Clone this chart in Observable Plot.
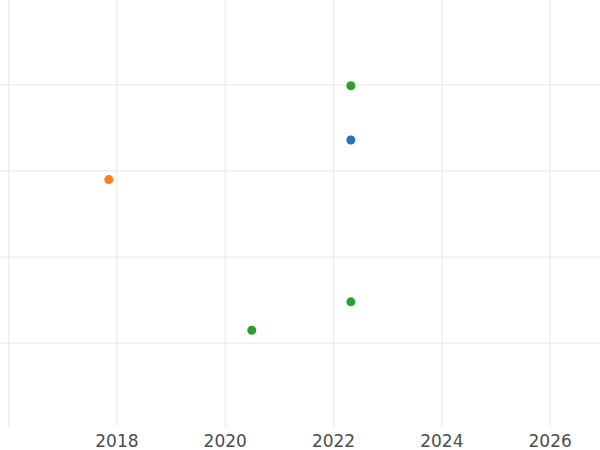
<!DOCTYPE html>
<html>
<head>
<meta charset="utf-8">
<script src="https://cdn.jsdelivr.net/npm/d3@7"></script>
<script src="https://cdn.jsdelivr.net/npm/@observablehq/plot@0.6"></script>
<style>
  html, body { margin: 0; padding: 0; background: #fff; }
  #chart svg { display: block; }
</style>
</head>
<body>
<div id="chart"></div>
<script>
// Data
const years  = [2022.32, 2022.32, 2017.85, 2022.32, 2020.49];
const values = [3.99, 3.36, 2.90, 1.48, 1.15];
const series = ["C", "A", "B", "C", "C"];

const seriesNames = ["A", "B", "C"];
const gridYears = [2016, 2018, 2020, 2022, 2024, 2026];
const tickYears = [2018, 2020, 2022, 2024, 2026];
const gridValues = [1, 2, 3, 4];

const data = years.map((x, i) => ({x, y: values[i], s: series[i]}));

const chart = Plot.plot({
  width: 600,
  height: 450,
  marginLeft: 0,
  marginRight: 0,
  marginTop: 0,
  marginBottom: 23,
  style: {fontFamily: "DejaVu Sans", fontSize: "17px", background: "#fff"},
  x: {domain: [2015.85, 2026.93], label: null},
  y: {domain: [0.02, 4.98], label: null, axis: null},
  color: {domain: seriesNames, range: ["#1f77b4", "#ff7f0e", "#2ca02c"]},
  marks: [
    Plot.gridX(gridYears, {stroke: "#ebebeb", strokeOpacity: 1, strokeWidth: 1.2}),
    Plot.gridY(gridValues, {stroke: "#ebebeb", strokeOpacity: 1, strokeWidth: 1.2}),
    Plot.axisX(tickYears, {tickSize: 0, tickPadding: 7, tickFormat: d => String(d), fill: "#4d4d4d", fontSize: 17, label: null}),
    Plot.dot(data, {x: "x", y: "y", fill: "s", r: 4.5, stroke: null})
  ]
});
document.getElementById("chart").appendChild(chart);
</script>
</body>
</html>
